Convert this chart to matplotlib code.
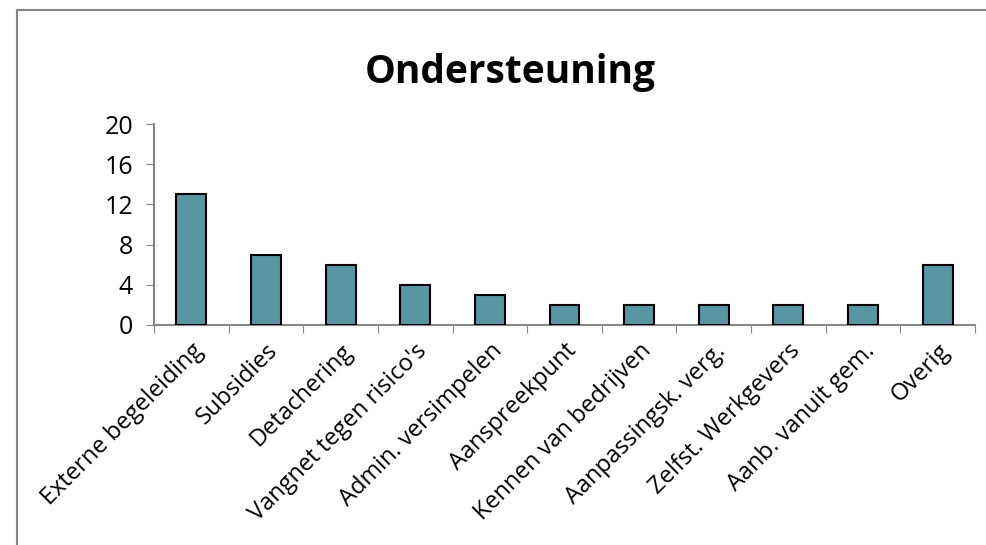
import numpy as np
import matplotlib
matplotlib.use('Agg')
from matplotlib import pyplot as plt
from matplotlib.lines import Line2D

plt.rcParams['font.family'] = ['Open Sans', 'DejaVu Sans']

categories = ['Externe begeleiding', 'Subsidies', 'Detachering',
              "Vangnet tegen risico's", 'Admin. versimpelen', 'Aanspreekpunt',
              'Kennen van bedrijven', 'Aanpassingsk. verg.', 'Zelfst. Werkgevers',
              'Aanb. vanuit gem.', 'Overig']
counts = [13, 7, 6, 4, 3, 2, 2, 2, 2, 2, 6]
yticks = [0, 4, 8, 12, 16, 20]

W, H = 986, 545
fig = plt.figure(figsize=(W / 100, H / 100), dpi=100)

# axes placed in pixel units
left, right, top, bottom = 154, 975, 124, 325
ax = fig.add_axes([left / W, 1 - bottom / H, (right - left) / W, (bottom - top) / H])

x = np.arange(len(categories))
ax.bar(x, counts, width=0.4, color='#5796A2', edgecolor='black', linewidth=1.5, zorder=3)

ax.set_xlim(-0.5, len(categories) - 0.5)
ax.set_ylim(0, 20)
ax.set_yticks(yticks)
ax.set_yticklabels([str(v) for v in yticks], fontsize=18)

# tick marks between categories, labels centred on the bars
ax.set_xticks(np.arange(len(categories) + 1) - 0.5)
ax.set_xticklabels([])
ax.set_xticks(x, minor=True)
ax.set_xticklabels(categories, minor=True, rotation=45, ha='right',
                   rotation_mode='anchor', fontsize=17)
ax.tick_params(axis='x', which='minor', length=0, pad=10)
ax.tick_params(axis='x', which='major', length=6, color='#868686', direction='out')
ax.tick_params(axis='y', length=6, color='#868686', direction='out', pad=9)

for s in ['top', 'right']:
    ax.spines[s].set_visible(False)
for s in ['left', 'bottom']:
    ax.spines[s].set_color('#868686')
    ax.spines[s].set_linewidth(1.5)

fig.text(510 / W, 1 - 72 / H, 'Ondersteuning', ha='center', va='center',
         fontsize=28, fontweight='bold')

# chart frame (left and top edges visible)
fig.add_artist(Line2D([17 / W, 17 / W], [0, 1 - 10 / H], transform=fig.transFigure,
                      color='#868686', linewidth=1.5))
fig.add_artist(Line2D([17 / W, 1], [1 - 10 / H, 1 - 10 / H], transform=fig.transFigure,
                      color='#868686', linewidth=1.5))

fig.savefig('out.png', dpi=100)
